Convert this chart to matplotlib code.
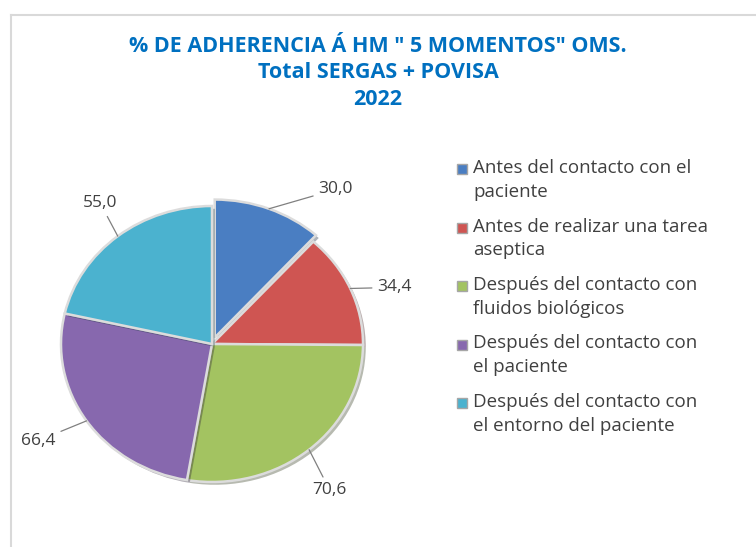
import numpy as np
import matplotlib.pyplot as plt
import matplotlib.patheffects as pe
from matplotlib.lines import Line2D
from matplotlib.patches import Rectangle

categorias = ['Antes del contacto con el\npaciente',
              'Antes de realizar una tarea\naseptica',
              'Después del contacto con\nfluidos biológicos',
              'Después del contacto con\nel paciente',
              'Después del contacto con\nel entorno del paciente']
valores = [30.0, 34.4, 70.6, 66.4, 55.0]
etiquetas = ['30,0', '34,4', '70,6', '66,4', '55,0']
colores = ['#4A7EC2', '#CF5552', '#A3C361', '#8768AE', '#4BB2CF']

# where Excel put the data labels (pie units, radius = 1)
pos_etiquetas = [(0.82, 1.12), (1.21, 0.41), (0.78, -1.06), (-1.15, -0.70), (-0.74, 1.02)]

plt.rcParams['font.family'] = ['Open Sans', 'DejaVu Sans']

W, H = 756, 547
fig = plt.figure(figsize=(W / 100, H / 100), dpi=100)
fig.patch.set_facecolor('white')

# chart area border (only top and left visible in the crop)
fig.add_artist(Line2D([11 / W, 1.0], [1 - 15 / H, 1 - 15 / H], color='#d9d9d9', lw=1.5))
fig.add_artist(Line2D([11 / W, 11 / W], [0, 1 - 15 / H], color='#d9d9d9', lw=1.5))

# pie centre ~ (212, 344) px, radii 151 x 138 px
cx, cy, rx, ry = 212, 344, 151, 138
ax = fig.add_axes([(cx - 1.25 * rx) / W, (H - cy - 1.25 * ry) / H, 2.5 * rx / W, 2.5 * ry / H])

explode = [0.05, 0, 0, 0, 0]
wedges, _ = ax.pie(valores, colors=colores, startangle=90, counterclock=False,
                   explode=explode,
                   wedgeprops=dict(edgecolor='#dcdcdc', linewidth=1.8))
for w in wedges:
    w.set_path_effects([pe.SimplePatchShadow(offset=(2, -2), alpha=0.35), pe.Normal()])

ax.set_aspect('auto')
ax.set_xlim(-1.25, 1.25)
ax.set_ylim(-1.25, 1.25)

# data labels with leader lines
for w, txt, pos, ex in zip(wedges, etiquetas, pos_etiquetas, explode):
    ang = np.deg2rad((w.theta1 + w.theta2) / 2)
    r = 1.0 + ex
    xy = (r * np.cos(ang), r * np.sin(ang))
    ax.annotate(txt, xy=xy, xytext=pos, fontsize=12.5, color='#404040',
                ha='center', va='center',
                arrowprops=dict(arrowstyle='-', color='#808080', lw=0.9,
                                shrinkA=2, shrinkB=0))

fig.text(0.5, 1 - 73 / H, '% DE ADHERENCIA Á HM " 5 MOMENTOS" OMS.\nTotal SERGAS + POVISA\n2022',
         ha='center', va='center', fontsize=15.5, fontweight='bold', color='#0070C0',
         linespacing=1.32)

# legend drawn by hand so the marker sits on the first text line
y0, paso = 169, 58.5
for i, (cat, col) in enumerate(zip(categorias, colores)):
    y = y0 + i * paso
    fig.add_artist(Rectangle(((457) / W, 1 - (y + 5) / H), 10 / W, 10 / H,
                             facecolor=col, edgecolor='#a6a6a6', lw=1.0,
                             transform=fig.transFigure))
    fig.text(473 / W, 1 - (y - 10) / H, cat, ha='left', va='top', fontsize=13.5,
             color='#404040', linespacing=1.4)

fig.savefig('out.png', dpi=100)
